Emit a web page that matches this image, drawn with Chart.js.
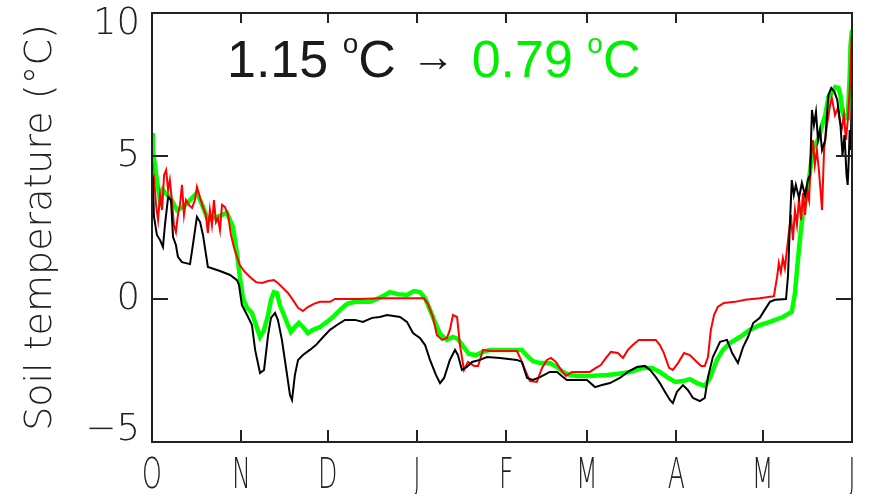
<!DOCTYPE html>
<html>
<head>
<meta charset="utf-8">
<script src="https://cdn.jsdelivr.net/npm/chart.js@4"></script>
<style>
  html, body { margin: 0; padding: 0; background: #ffffff; }
  canvas { display: block; }
</style>
</head>
<body>
<canvas id="chart" width="872" height="494"></canvas>
<script>
// Days counted from 1 October; month boundaries label the x axis.
const monthStarts = [0, 31, 61, 92, 123, 151, 182, 212, 243];
const monthLabels = ['O', 'N', 'D', 'J', 'F', 'M', 'A', 'M', 'J'];
const tempTicks = [-5, 0, 5, 10];

// Mean soil temperature before and after.
const meanBefore = 1.15;
const meanAfter = 0.79;

// [day, soil temperature °C]
const blackSeries = [
  [0,4.86],[0.7,2.87],[1.7,2.24],[2.8,2.06],[3.8,1.82],[4.5,2.59],[5.6,3.57],[6.6,3.46],
  [7.3,2.17],[8.3,1.89],[9.0,1.47],[10.4,1.29],[13.2,1.22],[14.2,1.89],[15.6,2.87],[16.7,2.69],
  [17.7,2.24],[19.4,1.12],[23.6,0.98],[27.1,0.84],[29.5,0.66],[30.2,0.49],[31.2,-0.21],[33.0,-0.56],
  [34.7,-0.91],[35.8,-1.78],[37.5,-2.59],[38.9,-2.48],[40.3,-1.26],[41.3,-0.66],[42.7,-0.49],[43.7,-0.73],
  [45.1,-1.43],[46.9,-2.66],[47.9,-3.36],[48.6,-3.53],[49.6,-2.66],[50.7,-2.13],[52.4,-1.96],[54.8,-1.78],
  [56.9,-1.61],[59.4,-1.33],[61.8,-1.08],[64.2,-0.91],[67.0,-0.73],[70.5,-0.73],[73.2,-0.80],[76.4,-0.66],
  [79.1,-0.63],[81.6,-0.56],[86.1,-0.63],[88.5,-0.80],[90.6,-1.19],[93.0,-1.36],[94.8,-1.61],[96.5,-2.13],
  [98.6,-2.66],[100.0,-2.94],[101.4,-2.76],[103.4,-2.13],[105.2,-1.78],[106.2,-1.96],[107.6,-2.48],[109.3,-2.38],
  [111.1,-2.20],[113.8,-2.13],[116.3,-2.03],[120.8,-2.06],[126.7,-2.13],[128.4,-2.20],[130.2,-2.76],[132.2,-2.83],
  [134.7,-2.73],[138.1,-2.55],[140.6,-2.55],[142.7,-2.73],[144.0,-2.83],[146.8,-2.83],[151.0,-2.83],[153.8,-3.08],
  [156.2,-3.01],[159.0,-2.94],[162.4,-2.76],[165.2,-2.55],[168.3,-2.38],[171.1,-2.34],[172.9,-2.48],[174.9,-2.73],
  [176.3,-2.94],[178.1,-3.25],[179.8,-3.53],[180.8,-3.64],[182.2,-3.25],[184.3,-3.01],[186.0,-3.18],[187.8,-3.46],
  [190.2,-3.57],[191.9,-3.46],[193.0,-2.73],[194.7,-2.03],[197.2,-1.50],[199.6,-1.43],[201.4,-1.89],[203.4,-2.24],
  [205.2,-1.68],[206.9,-1.33],[208.7,-0.84],[211.0,-0.66],[212.7,-0.38],[214.5,-0.10],[216.3,-0.03],[220.1,0.0],
  [220.8,0.84],[221.5,2.76],[222.1,4.16],[222.8,3.64],[223.5,3.99],[224.6,3.53],[225.6,4.06],[226.7,3.64],
  [227.7,4.16],[228.4,4.34],[229.1,6.61],[229.8,6.08],[230.5,6.54],[231.2,5.56],[231.9,5.91],[232.6,5.21],
  [233.7,5.56],[234.8,7.13],[235.8,7.38],[236.9,7.24],[237.9,6.96],[239.0,6.08],[239.7,5.03],[240.4,5.73],
  [241.1,4.34],[241.5,3.99],[241.8,4.69],[242.2,5.91],[242.5,5.21],[242.9,6.96],[243.0,7.66]
];

const redSeries = [
  [0,3.99],[0.7,4.23],[1.4,3.29],[2.1,2.76],[2.8,3.64],[3.5,3.11],[4.2,4.34],[4.9,4.51],
  [5.6,3.81],[6.2,4.16],[6.9,3.46],[7.6,2.59],[8.3,2.34],[9.0,2.94],[9.7,3.29],[10.4,3.99],
  [11.1,2.94],[11.8,3.46],[12.8,3.29],[13.9,3.18],[14.9,3.46],[15.6,3.92],[16.7,3.53],[17.7,3.22],
  [18.7,2.94],[19.4,2.31],[20.1,3.11],[20.8,2.59],[21.5,3.46],[22.2,2.69],[22.9,2.83],[23.6,2.41],
  [24.3,3.29],[25.3,3.22],[26.4,2.94],[27.4,2.24],[28.5,1.78],[29.5,1.47],[30.5,1.19],[31.9,0.98],
  [34.0,0.77],[36.1,0.59],[38.2,0.56],[40.3,0.63],[42.3,0.66],[43.7,0.56],[45.5,0.38],[47.2,0.21],
  [48.9,-0.03],[50.7,-0.31],[52.4,-0.42],[54.1,-0.28],[56.2,-0.17],[58.3,-0.10],[61.8,-0.10],[63.5,0.0],
  [72.2,0.0],[79.1,0.03],[94.4,0.03],[95.8,-0.17],[97.5,-0.63],[98.9,-1.26],[100.7,-1.43],[102.4,-1.36],
  [103.4,-1.08],[104.5,-0.56],[105.9,-0.63],[106.9,-1.61],[108.3,-2.48],[109.7,-2.20],[111.8,-2.34],[113.2,-2.34],
  [114.9,-1.78],[117.3,-1.82],[126.7,-1.82],[128.1,-2.13],[129.8,-2.55],[131.2,-2.87],[133.6,-2.90],[135.4,-2.41],
  [137.1,-2.13],[138.5,-2.06],[140.2,-2.20],[142.0,-2.48],[143.7,-2.69],[145.8,-2.55],[148.6,-2.55],[152.0,-2.55],
  [154.1,-2.41],[155.8,-2.31],[157.6,-2.06],[159.3,-1.85],[161.7,-1.89],[163.5,-2.06],[165.2,-1.78],[166.9,-1.61],
  [169.0,-1.43],[174.9,-1.43],[176.3,-1.61],[177.7,-1.89],[179.5,-2.41],[180.8,-2.48],[182.6,-2.24],[184.7,-1.89],
  [186.7,-1.96],[188.8,-2.17],[190.6,-2.34],[191.9,-2.34],[193.0,-2.03],[194.0,-1.08],[195.1,-0.56],[196.4,-0.28],
  [198.5,-0.14],[202.4,-0.10],[205.9,-0.03],[211.0,0.03],[215.9,0.10],[217.0,0.77],[217.6,1.26],[218.3,0.94],
  [219.0,1.43],[219.7,1.08],[220.4,1.71],[221.1,2.34],[221.8,2.94],[222.5,2.06],[223.2,3.11],[223.9,2.59],
  [224.6,3.53],[225.3,2.76],[226.0,3.71],[226.7,2.94],[227.4,3.81],[228.1,3.46],[228.7,4.86],[229.4,5.56],
  [230.1,4.69],[230.8,5.21],[231.5,4.51],[232.2,3.64],[232.6,3.11],[233.3,5.21],[234.3,6.08],[235.4,6.78],
  [236.0,7.03],[237.1,6.43],[238.1,6.68],[238.8,6.19],[239.5,5.98],[240.2,6.43],[240.9,5.56],[241.6,6.33],
  [242.3,7.48],[242.6,8.36],[243.0,9.41]
];

const greenSeries = [
  [0,5.80],[0.3,5.21],[1.0,4.69],[1.7,4.16],[2.8,3.46],[3.8,3.81],[5.2,3.64],[6.2,3.57],
  [7.3,3.36],[8.7,3.11],[10.8,3.22],[13.2,3.46],[15.6,3.71],[17.7,3.22],[19.4,2.76],[22.6,2.87],
  [26.0,3.01],[28.1,2.52],[29.5,1.61],[30.5,0.77],[31.6,0.03],[33.0,-0.31],[34.7,-0.49],[36.1,-0.91],
  [37.5,-1.33],[38.9,-1.08],[40.3,-0.56],[41.3,-0.03],[42.3,0.24],[43.4,0.21],[44.4,-0.21],[45.8,-0.56],
  [47.2,-0.91],[48.2,-1.15],[49.6,-0.98],[51.0,-0.84],[52.4,-0.98],[54.1,-1.19],[55.9,-1.08],[58.3,-0.98],
  [60.7,-0.80],[62.8,-0.63],[65.3,-0.38],[67.7,-0.17],[70.5,-0.10],[75.7,-0.10],[78.1,0.0],[80.2,0.10],
  [82.6,0.24],[85.4,0.17],[88.5,0.14],[90.9,0.28],[93.0,0.24],[94.8,0.03],[96.5,-0.38],[98.2,-0.80],
  [100.0,-1.22],[102.4,-1.43],[104.5,-1.33],[106.2,-1.40],[107.9,-1.64],[110.0,-1.92],[112.5,-1.96],[114.9,-1.85],
  [117.3,-1.78],[128.4,-1.78],[130.2,-1.99],[132.2,-2.17],[134.7,-2.24],[138.1,-2.24],[140.6,-2.38],[142.7,-2.55],
  [145.1,-2.66],[147.5,-2.69],[152.0,-2.69],[157.9,-2.66],[161.4,-2.62],[165.9,-2.55],[170.4,-2.41],[173.6,-2.41],
  [176.3,-2.55],[178.8,-2.73],[181.6,-2.90],[184.3,-2.87],[186.7,-2.80],[189.2,-2.94],[191.9,-3.04],[193.7,-2.76],
  [196.1,-2.13],[198.2,-1.78],[200.6,-1.54],[204.1,-1.33],[207.5,-1.08],[211.0,-0.91],[214.5,-0.80],[219.0,-0.63],
  [222.1,-0.45],[223.2,0.21],[223.9,1.01],[225.0,2.17],[226.0,3.04],[227.4,3.71],[228.4,4.44],[229.4,5.21],
  [230.5,5.45],[231.5,5.63],[232.6,6.08],[233.7,6.43],[234.8,7.06],[236.2,7.24],[237.2,7.41],[238.3,7.38],
  [239.0,7.13],[239.7,6.54],[240.4,6.33],[241.5,6.33],[241.8,6.96],[242.2,7.83],[242.5,8.88],[243.0,9.41]
];

const toPoints = arr => arr.map(([d, t]) => ({ x: d, y: t }));

const AXIS_COLOR = '#222222';

// Box frame, inward tick marks, axis labels and the headline.
const framePlugin = {
  id: 'frame',
  afterDatasetsDraw(chart) {
    const { ctx, chartArea: a, scales: { x, y } } = chart;
    ctx.save();
    ctx.strokeStyle = AXIS_COLOR;
    ctx.lineWidth = 2;
    ctx.strokeRect(a.left, a.top, a.right - a.left, a.bottom - a.top);

    ctx.beginPath();
    monthStarts.slice(1, -1).forEach(d => {
      const px = Math.round(x.getPixelForValue(d));
      ctx.moveTo(px, a.bottom); ctx.lineTo(px, a.bottom - 12);
      ctx.moveTo(px, a.top); ctx.lineTo(px, a.top + 10);
    });
    tempTicks.slice(1, -1).forEach(v => {
      const py = Math.round(y.getPixelForValue(v));
      ctx.moveTo(a.left, py); ctx.lineTo(a.left + 16, py);
      ctx.moveTo(a.right, py); ctx.lineTo(a.right - 16, py);
    });
    ctx.stroke();

    // y tick labels, kept inside the frame at both ends
    ctx.font = '200 37px "DejaVu Sans"';
    ctx.fillStyle = AXIS_COLOR;
    ctx.textAlign = 'right';
    ctx.textBaseline = 'middle';
    tempTicks.forEach(v => {
      let py = y.getPixelForValue(v);
      py = Math.min(Math.max(py, a.top + 11), a.bottom - 12);
      const txt = v < 0 ? '\u2212' + Math.abs(v) : String(v);
      ctx.fillText(txt, a.left - 12, py);
    });

    // month labels: tall, narrow letters
    ctx.font = '200 42px "DejaVu Sans"';
    ctx.textAlign = 'center';
    ctx.textBaseline = 'alphabetic';
    monthStarts.forEach((d, i) => {
      const px = x.getPixelForValue(d);
      ctx.save();
      ctx.translate(px, a.bottom + 46);
      ctx.scale(0.6, 1);
      ctx.fillText(monthLabels[i], 0, 0);
      ctx.restore();
    });

    // headline: mean temperature change
    const big = '52px "Liberation Sans"';
    const small = '28px "Liberation Sans"';
    const baseY = 77;
    let cx = 227;
    ctx.textAlign = 'left';
    ctx.textBaseline = 'alphabetic';
    const piece = (txt, font, color, dy) => {
      ctx.font = font;
      ctx.fillStyle = color;
      ctx.fillText(txt, cx, baseY + (dy || 0));
      cx += ctx.measureText(txt).width;
    };
    const gap = () => { ctx.font = big; cx += ctx.measureText(' ').width; };
    piece(meanBefore.toFixed(2), big, '#1a1a1a');
    gap();
    piece('o', small, '#1a1a1a', -24);
    piece('C', big, '#1a1a1a');
    gap();
    cx += 1;
    piece('\u2192', '44px "Liberation Sans"', '#1a1a1a', -6);
    gap();
    cx += 2;
    piece(meanAfter.toFixed(2), big, '#00ee00');
    gap();
    piece('o', small, '#00ee00', -24);
    piece('C', big, '#00ee00');
    ctx.restore();
  }
};

new Chart(document.getElementById('chart'), {
  type: 'line',
  data: {
    datasets: [
      { data: toPoints(blackSeries), borderColor: '#000000', borderWidth: 2 },
      { data: toPoints(redSeries), borderColor: '#ff0000', borderWidth: 2 },
      { data: toPoints(greenSeries), borderColor: '#00ff00', borderWidth: 4.5 }
    ]
  },
  options: {
    responsive: false,
    animation: false,
    devicePixelRatio: 1,
    layout: { padding: { top: 13, right: 20, left: 0, bottom: 0 } },
    elements: { point: { radius: 0 }, line: { tension: 0, borderJoinStyle: 'miter' } },
    plugins: { legend: { display: false }, tooltip: { enabled: false } },
    scales: {
      x: {
        type: 'linear',
        min: 0,
        max: 243,
        grid: { display: false, drawTicks: false },
        border: { display: false },
        afterBuildTicks: s => { s.ticks = monthStarts.map(v => ({ value: v })); },
        afterFit: s => { s.height = 52; s.paddingLeft = 0; s.paddingRight = 0; },
        ticks: { display: false }
      },
      y: {
        min: -5,
        max: 10,
        grid: { display: false, drawTicks: false },
        border: { display: false },
        afterBuildTicks: s => { s.ticks = tempTicks.map(v => ({ value: v })); },
        afterFit: s => { s.width = 152; s.paddingTop = 0; s.paddingBottom = 0; },
        ticks: { display: false },
        title: {
          display: true,
          text: 'Soil temperature (\u00B0C)',
          color: AXIS_COLOR,
          font: { family: 'DejaVu Sans', size: 38, weight: 200 },
          padding: { top: 18, bottom: 0 }
        }
      }
    }
  },
  plugins: [framePlugin]
});
</script>
</body>
</html>
